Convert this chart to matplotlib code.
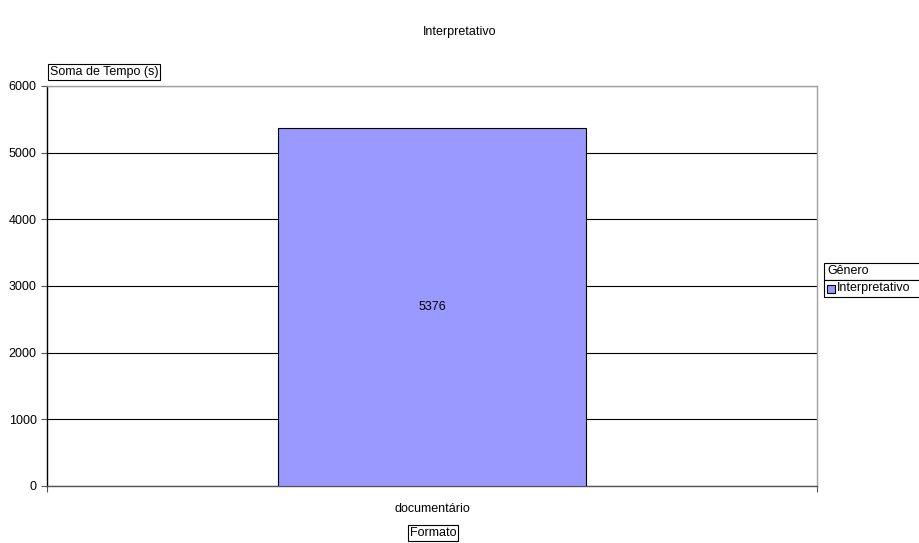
import matplotlib
matplotlib.use('Agg')
import matplotlib.pyplot as plt
from matplotlib.patches import Rectangle

# Data
categorias = ['documentário']
valores = [5376]
serie = 'Interpretativo'
y_ticks = [0, 1000, 2000, 3000, 4000, 5000, 6000]

plt.rcParams['font.family'] = ['Liberation Sans', 'DejaVu Sans']
FS = 9

fig = plt.figure(figsize=(9.2, 5.43), dpi=100)
ax = fig.add_axes([47 / 920, 1 - 486 / 543, 770 / 920, 400 / 543])

x = list(range(len(categorias)))
bars = ax.bar(x, valores, width=0.4, color='#9999FF', edgecolor='black', linewidth=0.8, zorder=3)

# value label in the middle of the bar
for b, v in zip(bars, valores):
    ax.text(b.get_x() + b.get_width() / 2, v / 2, str(v), ha='center', va='center',
            fontsize=FS, zorder=4)

ax.set_xlim(-0.5, len(categorias) - 0.5)
ax.set_ylim(0, 6000)
ax.set_yticks(y_ticks)
ax.yaxis.grid(True, color='black', linewidth=0.8)
ax.set_axisbelow(True)

# category labels between boundary ticks
ax.set_xticks([i - 0.5 for i in range(len(categorias) + 1)])
ax.set_xticklabels([])
ax.set_xticks(x, minor=True)
ax.set_xticklabels(categorias, minor=True)
ax.tick_params(axis='x', which='minor', length=0, pad=12, labelsize=FS)
ax.tick_params(axis='x', which='major', length=4, color='#555555')
ax.tick_params(axis='y', length=4, labelsize=FS, color='#555555')

ax.spines['left'].set_color('black')
ax.spines['bottom'].set_color('#555555')
ax.spines['right'].set_color('#a0a0a0')
ax.spines['top'].set_color('#a0a0a0')
for s in ax.spines.values():
    s.set_linewidth(1.0)

box = dict(boxstyle='square,pad=0.15', facecolor='white', edgecolor='black', linewidth=0.8)
fig.text(0.5, 1 - 32 / 543, 'Interpretativo', ha='center', va='center', fontsize=FS)
fig.text(50 / 920, 1 - 72 / 543, 'Soma de Tempo (s)', ha='left', va='center', fontsize=FS, bbox=box)
fig.text(433 / 920, 1 - 533 / 543, 'Formato', ha='center', va='center', fontsize=FS, bbox=box)

# legend (pivot field button + entry)
x0 = 824 / 920
h = 17 / 543
for y_top in (263, 280):
    fig.patches.append(Rectangle((x0, 1 - (y_top + 17) / 543), 0.2, h, transform=fig.transFigure,
                                 facecolor='white', edgecolor='black', linewidth=0.8))
fig.text(x0 + 3 / 920, 1 - 271.5 / 543, 'Gênero', ha='left', va='center', fontsize=FS)
fig.patches.append(Rectangle((827 / 920, 1 - 292.5 / 543), 8 / 920, 8 / 543, transform=fig.transFigure,
                             facecolor='#9999FF', edgecolor='black', linewidth=0.8))
fig.text(837 / 920, 1 - 288.5 / 543, serie, ha='left', va='center', fontsize=FS)

fig.savefig('out.png', dpi=100)
